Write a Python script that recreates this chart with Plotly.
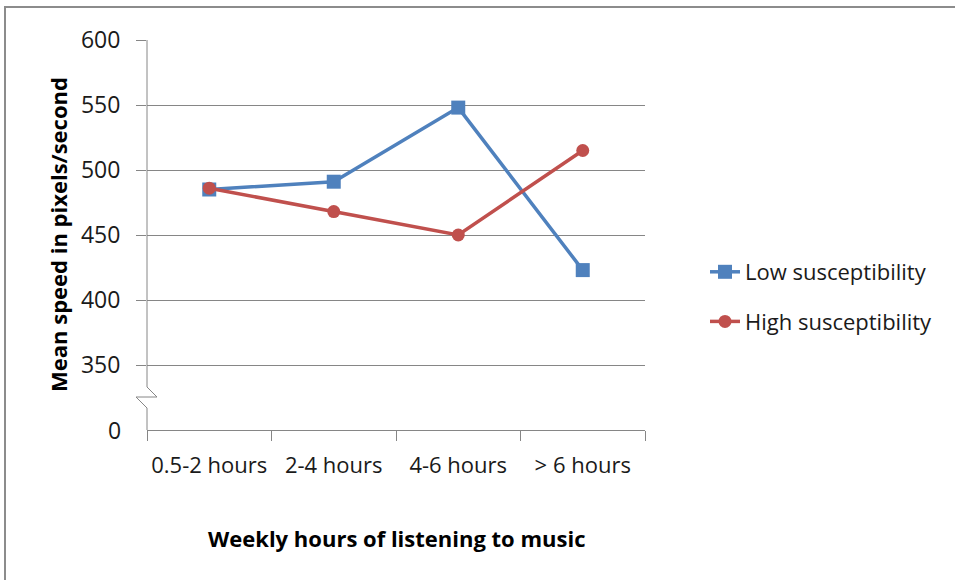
import plotly.graph_objects as go

# Weekly listening groups and mean cursor speed (pixels/second)
categories = ["0.5-2 hours", "2-4 hours", "4-6 hours", "> 6 hours"]
low_susceptibility = [485, 491, 548, 423]
high_susceptibility = [486, 468, 450, 515]

# Value axis: the baseline "0" sits one step below 350, across a scale break
axis_floor = 300
axis_top = 600
y_tickvals = [350, 400, 450, 500, 550, 600]
y_ticktext = ["350", "400", "450", "500", "550", "600"]

BLUE = "#4F81BD"
RED = "#C0504D"
GRID = "#868686"
FONT = "'Open Sans', 'Noto Sans', sans-serif"
TEXT = "#1a1a1a"
LABEL_SIZE = 23
LEGEND_SIZE = 22
TITLE_SIZE = 22

fig = go.Figure()
fig.add_trace(go.Scatter(
    x=categories, y=low_susceptibility, name="Low susceptibility",
    mode="lines+markers", legendgroup="low",
    line=dict(color=BLUE, width=3.5),
    marker=dict(symbol="square", size=14, color=BLUE),
))
fig.add_trace(go.Scatter(
    x=categories, y=high_susceptibility, name="High susceptibility",
    mode="lines+markers", legendgroup="high",
    line=dict(color=RED, width=3.5),
    marker=dict(symbol="circle", size=13, color=RED),
))

px_w = 498.0
px_h = 390.0

def px_x(dx):
    return dx / px_w

def val(dy_px):
    return dy_px * (axis_top - axis_floor) / px_h

brk_hi = axis_floor + val(43)
brk_mid = axis_floor + val(33)
brk_lo = axis_floor + val(22)

shapes = [
    # vertical axis with a break marker near the bottom
    dict(type="line", xref="paper", yref="y", x0=0, x1=0, y0=brk_hi, y1=axis_top,
         line=dict(color=GRID, width=1)),
    dict(type="line", xref="paper", yref="y", x0=0, x1=0, y0=axis_floor, y1=brk_lo,
         line=dict(color=GRID, width=1)),
    dict(type="path", xref="paper", yref="y",
         path=(f"M 0 {brk_hi} L {px_x(10)} {brk_mid} L {px_x(-11)} {brk_mid} "
               f"L 0 {brk_lo}"),
         line=dict(color=GRID, width=1)),
    # outer chart frame
    dict(type="path", xref="paper", yref="paper",
         path=(f"M {px_x(5 - 147)} {-150 / px_h} L {px_x(5 - 147)} {(430 - 7) / px_h} "
               f"L {px_x(955 - 147)} {(430 - 7) / px_h}"),
         line=dict(color="#8c8c8c", width=2)),
]

annotations = [
    dict(text="0", xref="paper", yref="y", x=0, y=axis_floor, xanchor="right",
         yanchor="middle", xshift=-24, showarrow=False,
         font=dict(family=FONT, size=LABEL_SIZE, color=TEXT)),
    dict(text="<b>Mean speed in pixels/second</b>", xref="paper", yref="paper",
         x=px_x(58 - 147), y=0.5, textangle=-90, showarrow=False,
         xanchor="center", yanchor="middle",
         font=dict(family=FONT, size=TITLE_SIZE, color="#000")),
    dict(text="<b>Weekly hours of listening to music</b>", xref="paper", yref="paper",
         x=0.5, y=(430 - 538) / px_h, showarrow=False,
         xanchor="center", yanchor="middle",
         font=dict(family=FONT, size=TITLE_SIZE, color="#000")),
]

fig.update_layout(
    width=955, height=580,
    margin=dict(l=147, r=955 - 645, t=40, b=150, autoexpand=False),
    paper_bgcolor="white", plot_bgcolor="white",
    font=dict(family=FONT, size=LABEL_SIZE, color=TEXT),
    showlegend=True,
    legend=dict(
        x=px_x(705 - 147), y=(430 - 297) / px_h, xanchor="left", yanchor="middle",
        font=dict(family=FONT, size=LEGEND_SIZE, color=TEXT),
        traceorder="grouped", tracegroupgap=18, bgcolor="rgba(0,0,0,0)",
    ),
    shapes=shapes,
    annotations=annotations,
)

fig.update_xaxes(
    type="category", range=[-0.5, len(categories) - 0.5],
    showgrid=False, showline=True, linecolor=GRID, linewidth=1,
    ticks="outside", ticklen=10, tickcolor=GRID, tickson="boundaries",
    tickangle=0, automargin=False,
    tickfont=dict(family=FONT, size=LABEL_SIZE - 1, color=TEXT), ticklabelstandoff=16,
    zeroline=False, fixedrange=True,
)
fig.update_yaxes(
    range=[axis_floor, axis_top], tickvals=y_tickvals, ticktext=y_ticktext,
    showgrid=True, gridcolor=GRID, gridwidth=1, showline=False, zeroline=False,
    ticks="outside", ticklen=10, tickcolor=GRID, automargin=False,
    tickfont=dict(family=FONT, size=LABEL_SIZE, color=TEXT), ticklabelstandoff=11,
    fixedrange=True,
)

fig.write_html("out.html")
